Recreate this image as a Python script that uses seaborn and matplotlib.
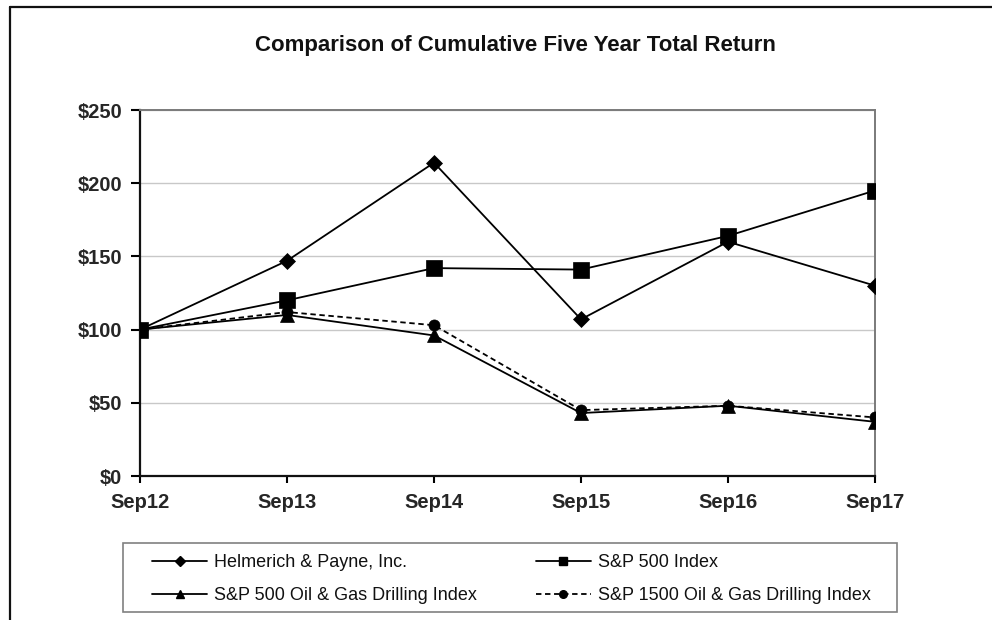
import matplotlib
matplotlib.use("Agg")
import matplotlib.pyplot as plt
import seaborn as sns
import pandas as pd
from matplotlib.lines import Line2D
from matplotlib.patches import Rectangle

# ---- data ----
periods = ["Sep12", "Sep13", "Sep14", "Sep15", "Sep16", "Sep17"]
helmerich = [100, 147, 214, 107, 160, 130]
sp500 = [100, 120, 142, 141, 164, 195]
sp500_oil_gas = [100, 110, 96, 43, 48, 37]
sp1500_oil_gas = [100, 112, 103, 45, 48, 40]
series_labels = ["Helmerich & Payne, Inc.", "S&P 500 Index",
                 "S&P 500 Oil & Gas Drilling Index", "S&P 1500 Oil & Gas Drilling Index"]
y_ticks = [0, 50, 100, 150, 200, 250]
y_tick_labels = ["$0", "$50", "$100", "$150", "$200", "$250"]
title = "Comparison of Cumulative Five Year Total Return"

sns.set_theme(style="white")
plt.rcParams['font.family'] = ['Liberation Sans', 'DejaVu Sans']
plt.rcParams['text.color'] = '#111111'

W, H = 992, 620
fig = plt.figure(figsize=(W / 100, H / 100), dpi=100)
fig.patch.set_facecolor('white')

def fx(px):
    return px / W

def fy(py):
    return 1 - py / H

ax = fig.add_axes([fx(140), fy(476), fx(875) - fx(140), fy(110) - fy(476)])

df = pd.DataFrame({
    "period": periods * 4,
    "value": helmerich + sp500 + sp500_oil_gas + sp1500_oil_gas,
    "series": sum([[s] * len(periods) for s in series_labels], []),
})
df["x"] = df["period"].map({p: i for i, p in enumerate(periods)})

styles = {
    series_labels[0]: dict(marker="D", markersize=8.5, linestyle="-", lms=5.5),
    series_labels[1]: dict(marker="s", markersize=11.5, linestyle="-", lms=6),
    series_labels[2]: dict(marker="^", markersize=10, linestyle="-", lms=6),
    series_labels[3]: dict(marker="o", markersize=8, linestyle=(0, (3, 2)), lms=5.5),
}
for s in series_labels:
    sub = df[df["series"] == s]
    st = styles[s]
    sns.lineplot(data=sub, x="x", y="value", ax=ax, color="black", lw=1.3,
                 marker=st["marker"], markersize=st["markersize"],
                 linestyle=st["linestyle"], markeredgecolor="black",
                 markeredgewidth=0.5, legend=False, zorder=3)

ax.set_xlim(0, len(periods) - 1)
ax.set_ylim(0, 250)
ax.set_xticks(range(len(periods)))
ax.set_xticklabels(periods, fontweight="bold", fontsize=14.5)
ax.set_yticks(y_ticks)
ax.set_yticklabels(y_tick_labels, fontweight="bold", fontsize=14.5)
ax.set_xlabel("")
ax.set_ylabel("")
ax.yaxis.grid(True, color="#c8c8c8", lw=1.0)
ax.xaxis.grid(False)
ax.set_axisbelow(True)
ax.tick_params(axis="y", direction="out", length=6.5, width=1.5, color="black",
               left=True, pad=6.5)
ax.tick_params(axis="x", direction="out", length=5, width=1.5, color="black",
               bottom=True, pad=7)
for side in ["left", "bottom"]:
    ax.spines[side].set_color("#111111")
    ax.spines[side].set_linewidth(1.6)
for side in ["top", "right"]:
    ax.spines[side].set_color("#7a7a7a")
    ax.spines[side].set_linewidth(1.4)

fig.text(fx(515), fy(45), title, ha="center", va="center", fontweight="bold",
         fontsize=16)

# outer frame (top and left edges)
fig.add_artist(Line2D([fx(10), fx(10)], [fy(7), 0], transform=fig.transFigure,
                      color="#111111", lw=1.6))
fig.add_artist(Line2D([fx(10), 1], [fy(7), fy(7)], transform=fig.transFigure,
                      color="#111111", lw=1.6))

# legend box
fig.add_artist(Rectangle((fx(123), fy(612)), fx(897) - fx(123), fy(543) - fy(612),
                         transform=fig.transFigure, fill=False,
                         edgecolor="#808080", lw=1.2))

handles = []
for s in series_labels:
    st = styles[s]
    handles.append(Line2D([], [], color="black", lw=1.3, marker=st["marker"],
                          markersize=st["lms"], linestyle=st["linestyle"]))
order = [0, 2, 1, 3]
leg = fig.legend([handles[i] for i in order], [series_labels[i] for i in order],
                 ncol=2, loc="center left",
                 bbox_to_anchor=(fx(152), fy(579)),
                 frameon=False, borderpad=0, borderaxespad=0,
                 handlelength=3.05, handletextpad=0.38,
                 labelspacing=0.9, columnspacing=3.27,
                 fontsize=13)

fig.savefig("out.png", dpi=100, facecolor="white")
